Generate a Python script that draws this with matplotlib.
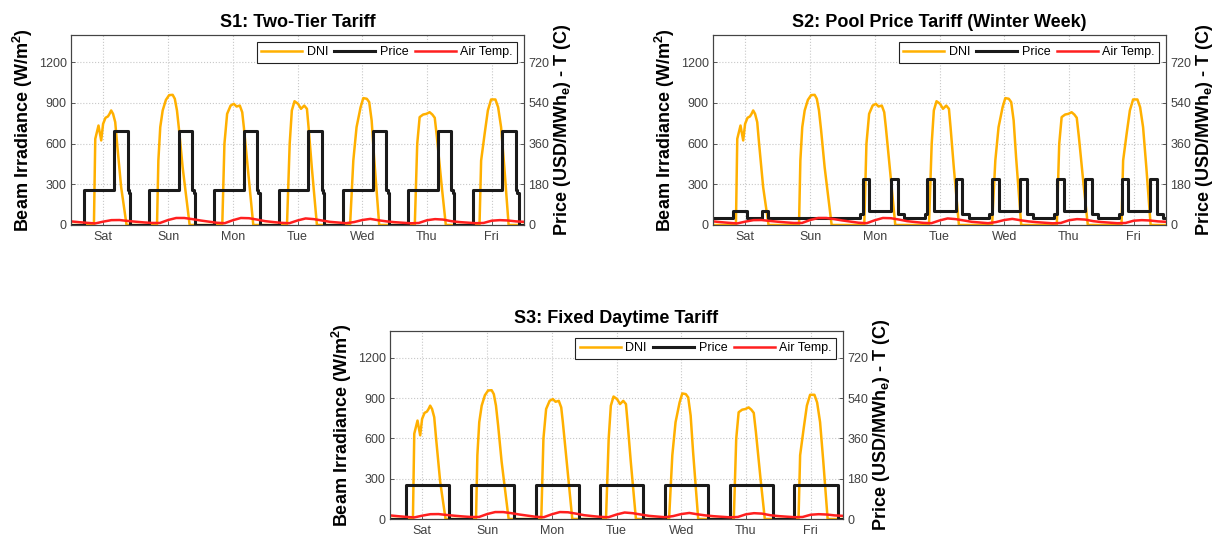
import matplotlib
matplotlib.use("Agg")
import matplotlib.pyplot as plt
import numpy as np

plt.rcParams["font.family"] = ["Liberation Sans", "DejaVu Sans"]
plt.rcParams["mathtext.fontset"] = "custom"
plt.rcParams["mathtext.rm"] = "Liberation Sans"
plt.rcParams["mathtext.bf"] = "Liberation Sans:bold"
plt.rcParams["mathtext.default"] = "bf"

DAYS      = ["Sat", "Sun", "Mon", "Tue", "Wed", "Thu", "Fri"]
DAY_TICKS = [12, 36, 60, 84, 108, 132, 156]

# beam irradiance, hour of week -> W/m2
DNI_H = [0, 8.5, 9.0, 10.2, 11.2, 11.9, 12.8, 13.7, 14.3, 14.9, 15.6, 16.4, 17.1, 18.6, 20.6,
         31.9, 32.4, 33.1, 34.0, 35.2, 36.4, 37.7, 38.5, 39.3, 40.1, 41.4, 44.0,
         56.1, 56.9, 57.9, 59.2, 60.4, 61.4, 62.6, 63.5, 64.1, 65.3, 67.6,
         80.1, 81.1, 81.9, 82.9, 84.2, 85.3, 86.5, 87.5, 88.1, 89.3, 91.2,
         103.5, 104.7, 105.9, 107.4, 108.4, 109.7, 110.6, 111.5, 112.4, 114.3,
         127.5, 128.4, 129.3, 130.6, 131.8, 133.0, 134.0, 134.9, 135.7, 137.4, 139.0,
         151.5, 152.1, 153.4, 154.6, 155.8, 157.4, 158.4, 159.5, 160.7, 162.3, 168]
DNI_V = [0, 0, 635, 733, 623, 745, 790, 800, 819, 844, 819, 758, 598, 279, 0,
         0, 475, 721, 844, 922, 957, 959, 930, 844, 696, 426, 0,
         0, 598, 819, 880, 893, 873, 880, 831, 721, 475, 0,
         0, 598, 844, 912, 893, 856, 880, 856, 721, 426, 0,
         0, 475, 721, 868, 935, 930, 905, 770, 500, 0,
         0, 598, 795, 814, 819, 831, 814, 790, 647, 303, 0,
         0, 475, 672, 844, 925, 925, 868, 721, 426, 0, 0]

# air temperature every 3 h (C)
TEMP_H = list(range(0, 169, 3))
TEMP_C = [16, 12.5, 9.5, 7, 15, 21.5, 22, 18,
          14.5, 11.5, 9, 9, 22, 31, 31, 26,
          20, 15, 10, 8, 21, 31, 30, 24,
          17, 13, 9.5, 8, 20, 29, 26, 20,
          14, 11, 8, 13, 22, 27, 21, 16,
          12.5, 10, 7.5, 9, 21, 26, 24, 17,
          13, 10.5, 8, 9, 19, 21.5, 20, 16, 14]

# tariffs: daily breakpoints (hour, USD/MWh_e), value held until the next one
S1_H = [0, 5, 16, 21, 21.5, 22]
S1_P = [0, 155, 416, 155, 140, 0]
S2_SAT_H = [0, 7.5, 12.5, 18, 20.5]
S2_SAT_P = [30, 63, 30, 63, 30]
S2_SUN_H = [0]
S2_SUN_P = [30]
S2_WD_H = [0, 6.5, 7.5, 10, 18, 20.5, 22.8]
S2_WD_P = [30, 48, 203, 63, 203, 48, 30]
S3_H = [0, 6, 22]
S3_P = [0, 150, 0]

ORANGE = "#FFB000"; BLACK = "#1a1a1a"; RED = "#FF1F1F"; GRID = "#c8c8c8"; TXT = "#404040"


def week(schedules):
    t, v = [], []
    for d, (hh, pp) in enumerate(schedules):
        t += [d * 24 + h for h in hh]
        v += list(pp)
    t.append(168); v.append(v[-1])
    return t, v


def panel(fig, rect, title, price):
    ax = fig.add_axes(rect)
    ax2 = ax.twinx()
    l1, = ax.plot(DNI_H, DNI_V, color=ORANGE, lw=1.8, label="DNI")
    l2, = ax2.plot(price[0], price[1], color=BLACK, lw=2.2, drawstyle="steps-post", label="Price")
    l3, = ax2.plot(TEMP_H, TEMP_C, color=RED, lw=1.8, label="Air Temp.")
    ax.set_xlim(0, 168)
    ax.set_ylim(0, 1400)
    ax2.set_ylim(0, 840)
    ax.set_yticks([0, 300, 600, 900, 1200])
    ax2.set_yticks([0, 180, 360, 540, 720])
    ax.set_xticks(DAY_TICKS)
    ax.set_xticklabels(DAYS)
    ax.grid(True, linestyle=":", color=GRID, lw=0.8)
    ax.set_axisbelow(True)
    for a in (ax, ax2):
        a.tick_params(direction="in", length=3, width=0.6, labelsize=9, colors=TXT, pad=3)
        for s in a.spines.values():
            s.set_color("#444444"); s.set_linewidth(0.8)
    ax.tick_params(axis="x", pad=4)
    ax.set_title(title, fontsize=13, fontweight="bold", pad=6)
    ax.set_ylabel("Beam Irradiance (W/m$^2$)", fontsize=13, fontweight="bold", labelpad=3)
    ax2.set_ylabel("Price (USD/MWh$_e$) - T (C)", fontsize=13, fontweight="bold", labelpad=2)
    leg = ax2.legend([l1, l2, l3], ["DNI", "Price", "Air Temp."], loc="upper right", ncol=3,
                     fontsize=9, fancybox=False, edgecolor="#222222", framealpha=1,
                     handlelength=3.3, columnspacing=0.5, handletextpad=0.35,
                     borderpad=0.35, borderaxespad=0.55)
    leg.get_frame().set_linewidth(0.8)
    return ax


fig = plt.figure(figsize=(12.31, 5.35), dpi=100)
W, H = 1231, 535
s1 = week([(S1_H, S1_P)] * 7)
s2 = week([(S2_SAT_H, S2_SAT_P), (S2_SUN_H, S2_SUN_P)] + [(S2_WD_H, S2_WD_P)] * 5)
s3 = week([(S3_H, S3_P)] * 7)
panel(fig, [71 / W, 1 - 225 / H, 453 / W, 190 / H], "S1: Two-Tier Tariff", s1)
panel(fig, [713 / W, 1 - 225 / H, 453 / W, 190 / H], "S2: Pool Price Tariff (Winter Week)", s2)
panel(fig, [390 / W, 1 - 519 / H, 453 / W, 188 / H], "S3: Fixed Daytime Tariff", s3)

fig.savefig("out.png", dpi=100, facecolor="white")
